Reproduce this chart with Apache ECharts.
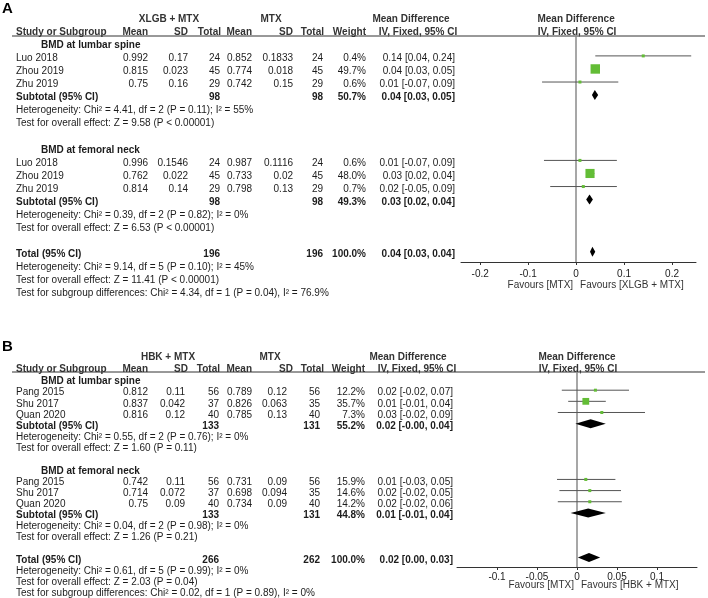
<!DOCTYPE html>
<html>
<head>
<meta charset="utf-8">
<script src="https://cdn.jsdelivr.net/npm/echarts@6/dist/echarts.min.js"></script>
<style>
html, body { margin: 0; padding: 0; background: #fff; }
#chart { width: 708px; height: 598px; }
</style>
</head>
<body>
<div id="chart"></div>
<script>
// ---------- Panel A: XLGB + MTX vs MTX ----------
var groupsA = ['BMD at lumbar spine', 'BMD at femoral neck'];
var studyA = ['Luo 2018', 'Zhou 2019', 'Zhu 2019', 'Luo 2018', 'Zhou 2019', 'Zhu 2019'];
var groupOfA = [0, 0, 0, 1, 1, 1];
var expMeanA = ['0.992', '0.815', '0.75', '0.996', '0.762', '0.814'];
var expSdA = ['0.17', '0.023', '0.16', '0.1546', '0.022', '0.14'];
var expNA = [24, 45, 29, 24, 45, 29];
var ctlMeanA = ['0.852', '0.774', '0.742', '0.987', '0.733', '0.798'];
var ctlSdA = ['0.1833', '0.018', '0.15', '0.1116', '0.02', '0.13'];
var ctlNA = [24, 45, 29, 24, 45, 29];
var weightA = [0.4, 49.7, 0.6, 0.6, 48.0, 0.7];
var mdTextA = ['0.14 [0.04, 0.24]', '0.04 [0.03, 0.05]', '0.01 [-0.07, 0.09]',
               '0.01 [-0.07, 0.09]', '0.03 [0.02, 0.04]', '0.02 [-0.05, 0.09]'];
var mdA = [0.14, 0.04, 0.008, 0.008, 0.029, 0.015];
var loA = [0.04, 0.031, -0.071, -0.067, 0.021, -0.054];
var hiA = [0.24, 0.049, 0.088, 0.085, 0.038, 0.085];
// subtotals per group
var subExpNA = [98, 98];
var subCtlNA = [98, 98];
var subWeightA = ['50.7%', '49.3%'];
var subMdTextA = ['0.04 [0.03, 0.05]', '0.03 [0.02, 0.04]'];
var subMdA = [0.039, 0.028];
var subLoA = [0.033, 0.021];
var subHiA = [0.046, 0.035];
var subHetA = ['Heterogeneity: Chi\u00b2 = 4.41, df = 2 (P = 0.11); I\u00b2 = 55%',
               'Heterogeneity: Chi\u00b2 = 0.39, df = 2 (P = 0.82); I\u00b2 = 0%'];
var subTestA = ['Test for overall effect: Z = 9.58 (P < 0.00001)',
                'Test for overall effect: Z = 6.53 (P < 0.00001)'];
// overall
var totalA = { expN: 196, ctlN: 196, weight: '100.0%', mdText: '0.04 [0.03, 0.04]', md: 0.034, lo: 0.029, hi: 0.04 };
var totalNotesA = ['Heterogeneity: Chi\u00b2 = 9.14, df = 5 (P = 0.10); I\u00b2 = 45%',
                   'Test for overall effect: Z = 11.41 (P < 0.00001)',
                   'Test for subgroup differences: Chi\u00b2 = 4.34, df = 1 (P = 0.04), I\u00b2 = 76.9%'];
var tickA = [-0.2, -0.1, 0, 0.1, 0.2];

// ---------- Panel B: HBK + MTX vs MTX ----------
var groupsB = ['BMD at lumbar spine', 'BMD at femoral neck'];
var studyB = ['Pang 2015', 'Shu 2017', 'Quan 2020', 'Pang 2015', 'Shu 2017', 'Quan 2020'];
var groupOfB = [0, 0, 0, 1, 1, 1];
var expMeanB = ['0.812', '0.837', '0.816', '0.742', '0.714', '0.75'];
var expSdB = ['0.11', '0.042', '0.12', '0.11', '0.072', '0.09'];
var expNB = [56, 37, 40, 56, 37, 40];
var ctlMeanB = ['0.789', '0.826', '0.785', '0.731', '0.698', '0.734'];
var ctlSdB = ['0.12', '0.063', '0.13', '0.09', '0.094', '0.09'];
var ctlNB = [56, 35, 40, 56, 35, 40];
var weightB = [12.2, 35.7, 7.3, 15.9, 14.6, 14.2];
var mdTextB = ['0.02 [-0.02, 0.07]', '0.01 [-0.01, 0.04]', '0.03 [-0.02, 0.09]',
               '0.01 [-0.03, 0.05]', '0.02 [-0.02, 0.05]', '0.02 [-0.02, 0.06]'];
var mdB = [0.023, 0.011, 0.031, 0.011, 0.016, 0.016];
var loB = [-0.019, -0.011, -0.024, -0.025, -0.022, -0.024];
var hiB = [0.065, 0.036, 0.085, 0.048, 0.055, 0.056];
var subExpNB = [133, 133];
var subCtlNB = [131, 131];
var subWeightB = ['55.2%', '44.8%'];
var subMdTextB = ['0.02 [-0.00, 0.04]', '0.01 [-0.01, 0.04]'];
var subMdB = [0.017, 0.014];
var subLoB = [-0.002, -0.008];
var subHiB = [0.036, 0.036];
var subHetB = ['Heterogeneity: Chi\u00b2 = 0.55, df = 2 (P = 0.76); I\u00b2 = 0%',
               'Heterogeneity: Chi\u00b2 = 0.04, df = 2 (P = 0.98); I\u00b2 = 0%'];
var subTestB = ['Test for overall effect: Z = 1.60 (P = 0.11)',
                'Test for overall effect: Z = 1.26 (P = 0.21)'];
var totalB = { expN: 266, ctlN: 262, weight: '100.0%', mdText: '0.02 [0.00, 0.03]', md: 0.015, lo: 0.001, hi: 0.029 };
var totalNotesB = ['Heterogeneity: Chi\u00b2 = 0.61, df = 5 (P = 0.99); I\u00b2 = 0%',
                   'Test for overall effect: Z = 2.03 (P = 0.04)',
                   'Test for subgroup differences: Chi\u00b2 = 0.02, df = 1 (P = 0.89), I\u00b2 = 0%'];
var tickB = [-0.1, -0.05, 0, 0.05, 0.1];

var FONT = '"Liberation Sans", Arial, Helvetica, sans-serif';
var GREEN = '#63bd36';
var TEXT_DY = 1.5;   // text sits a little lower than the markers
var MARK_DY = -1;

var panelA = {
  letter: 'A', letterY: 9, expName: 'XLGB + MTX', ctlName: 'MTX', favours: ['Favours [MTX]', 'Favours [XLGB + MTX]'],
  groups: groupsA, study: studyA, groupOf: groupOfA, expMean: expMeanA, expSd: expSdA, expN: expNA,
  ctlMean: ctlMeanA, ctlSd: ctlSdA, ctlN: ctlNA, weight: weightA, mdText: mdTextA, md: mdA, lo: loA, hi: hiA,
  subExpN: subExpNA, subCtlN: subCtlNA, subWeight: subWeightA, subMdText: subMdTextA,
  subMd: subMdA, subLo: subLoA, subHi: subHiA, subHet: subHetA, subTest: subTestA,
  total: totalA, totalNotes: totalNotesA, ticks: tickA,
  grid: { left: 461, top: 36, width: 235, height: 226 }, xMin: -0.24, xMax: 0.25, yMin: -0.6, yMax: 16.7,
  cols: { name: 16, group: 41, mean1: 148, sd1: 188, n1: 220, mean2: 252, sd2: 293, n2: 323, weight: 366, md: 455,
          hSd1: 188, hSd2: 293, hN2: 324, hExp: 169, hCtl: 271, hMd1: 411, hMd2: 418 },
  labelMargin: 7, favoursDy: 23, diamondH: 5, headerDy: 0
};
var panelB = {
  letter: 'B', letterY: 347, expName: 'HBK + MTX', ctlName: 'MTX', favours: ['Favours [MTX]', 'Favours [HBK + MTX]'],
  groups: groupsB, study: studyB, groupOf: groupOfB, expMean: expMeanB, expSd: expSdB, expN: expNB,
  ctlMean: ctlMeanB, ctlSd: ctlSdB, ctlN: ctlNB, weight: weightB, mdText: mdTextB, md: mdB, lo: loB, hi: hiB,
  subExpN: subExpNB, subCtlN: subCtlNB, subWeight: subWeightB, subMdText: subMdTextB,
  subMd: subMdB, subLo: subLoB, subHi: subHiB, subHet: subHetB, subTest: subTestB,
  total: totalB, totalNotes: totalNotesB, ticks: tickB,
  grid: { left: 457, top: 372, width: 240, height: 195 }, xMin: -0.15, xMax: 0.15, yMin: -0.72, yMax: 16.76,
  cols: { name: 16, group: 41, mean1: 148, sd1: 185, n1: 219, mean2: 252, sd2: 287, n2: 320, weight: 365, md: 453,
          hSd1: 188, hSd2: 293, hN2: 324, hExp: 168, hCtl: 270, hMd1: 408, hMd2: 417 },
  labelMargin: 5, favoursDy: 18, diamondH: 4.5, headerDy: -1.5
};

function txt(x, y, s, align, bold, color, size) {
  return {
    type: 'text', x: x, y: y, silent: true,
    style: {
      text: String(s), align: align || 'left', verticalAlign: 'middle',
      fontSize: size || 10, fontWeight: bold ? 'bold' : 'normal', fontFamily: FONT,
      fill: color || '#1c1c1c'
    }
  };
}

// build the table rows (row index -> cells) plus marker data
function buildRows(p) {
  var c = p.cols, rows = [], studies = [], diamonds = [];
  var plotMid = p.grid.left + p.grid.width * (0 - p.xMin) / (p.xMax - p.xMin);
  var H = '#333';
  rows.push({ i: -2, cells: [[c.hExp, p.expName, 'center', 1, H], [c.hCtl, p.ctlName, 'center', 1, H],
    [c.hMd1, 'Mean Difference', 'center', 1, H], [plotMid, 'Mean Difference', 'center', 1, H]] });
  rows.push({ i: -1, cells: [[c.name, 'Study or Subgroup', 'left', 1, H], [c.mean1, 'Mean', 'right', 1, H],
    [c.hSd1, 'SD', 'right', 1, H], [c.n1 + 1, 'Total', 'right', 1, H], [c.mean2, 'Mean', 'right', 1, H],
    [c.hSd2, 'SD', 'right', 1, H], [c.hN2, 'Total', 'right', 1, H], [c.weight, 'Weight', 'right', 1, H],
    [c.hMd2, 'IV, Fixed, 95% CI', 'center', 1, H], [plotMid + 1, 'IV, Fixed, 95% CI', 'center', 1, H]] });
  var i = 0;
  for (var g = 0; g < p.groups.length; g++) {
    rows.push({ i: i++, cells: [[c.group, p.groups[g], 'left', 1]] });
    for (var k = 0; k < p.study.length; k++) {
      if (p.groupOf[k] !== g) continue;
      rows.push({ i: i, cells: [[c.name, p.study[k], 'left'], [c.mean1, p.expMean[k], 'right'],
        [c.sd1, p.expSd[k], 'right'], [c.n1, p.expN[k], 'right'], [c.mean2, p.ctlMean[k], 'right'],
        [c.sd2, p.ctlSd[k], 'right'], [c.n2, p.ctlN[k], 'right'], [c.weight, p.weight[k].toFixed(1) + '%', 'right'],
        [c.md, p.mdText[k], 'right']] });
      studies.push([p.md[k], p.lo[k], p.hi[k], i, p.weight[k]]);
      i++;
    }
    rows.push({ i: i, cells: [[c.name, 'Subtotal (95% CI)', 'left', 1], [c.n1, p.subExpN[g], 'right', 1],
      [c.n2, p.subCtlN[g], 'right', 1], [c.weight, p.subWeight[g], 'right', 1], [c.md, p.subMdText[g], 'right', 1]] });
    diamonds.push([p.subMd[g], p.subLo[g], p.subHi[g], i]);
    i++;
    rows.push({ i: i++, cells: [[c.name, p.subHet[g], 'left']] });
    rows.push({ i: i++, cells: [[c.name, p.subTest[g], 'left']] });
    i++; // blank line
  }
  var t = p.total;
  rows.push({ i: i, cells: [[c.name, 'Total (95% CI)', 'left', 1], [c.n1, t.expN, 'right', 1],
    [c.n2, t.ctlN, 'right', 1], [c.weight, t.weight, 'right', 1], [c.md, t.mdText, 'right', 1]] });
  diamonds.push([t.md, t.lo, t.hi, i]);
  i++;
  p.totalNotes.forEach(function (n) { rows.push({ i: i++, cells: [[c.name, n, 'left']] }); });
  return { rows: rows, studies: studies, diamonds: diamonds };
}

var option = {
  animation: false,
  backgroundColor: '#fff',
  grid: [], xAxis: [], yAxis: [], series: [], graphic: []
};

[panelA, panelB].forEach(function (p, gi) {
  var built = buildRows(p);
  option.grid.push({
    left: p.grid.left, top: p.grid.top, width: p.grid.width, height: p.grid.height,
    containLabel: false, outerBoundsMode: 'none', show: false
  });
  option.xAxis.push({
    type: 'value', gridIndex: gi, min: p.xMin, max: p.xMax, position: 'bottom',
    axisLine: { show: true, onZero: false, lineStyle: { color: '#333', width: 1 } },
    axisTick: { show: true, length: 3, customValues: p.ticks, lineStyle: { color: '#333' } },
    axisLabel: {
      show: true, customValues: p.ticks, margin: p.labelMargin, color: '#1c1c1c',
      fontSize: 10, fontFamily: FONT, formatter: function (v) { return String(v); }
    },
    splitLine: { show: false }
  });
  option.yAxis.push({
    type: 'value', gridIndex: gi, inverse: true, min: p.yMin, max: p.yMax,
    axisLine: { show: true, onZero: true, lineStyle: { color: '#8a8a8a', width: 1.5 } },
    axisTick: { show: false }, axisLabel: { show: false }, splitLine: { show: false }
  });

  // table text, placed on the rows of the panel's y axis
  option.series.push({
    type: 'custom', name: 'table' + p.letter, xAxisIndex: gi, yAxisIndex: gi, clip: false, silent: true,
    data: built.rows.map(function (r) { return [0, r.i]; }),
    renderItem: function (params, api) {
      var r = built.rows[params.dataIndex];
      var y = api.coord([0, api.value(1)])[1] + TEXT_DY + (r.i < 0 ? p.headerDy : 0);
      return {
        type: 'group',
        children: r.cells.map(function (cl) { return txt(cl[0], y, cl[1], cl[2], cl[3], cl[4]); })
      };
    }
  });

  // study CIs and weight squares
  option.series.push({
    type: 'custom', name: 'studies' + p.letter, xAxisIndex: gi, yAxisIndex: gi, clip: false,
    encode: { x: [0, 1, 2], y: 3 },
    data: built.studies,
    renderItem: function (params, api) {
      var row = api.value(3);
      var lo = api.coord([api.value(1), row]);
      var hi = api.coord([api.value(2), row]);
      var c = api.coord([api.value(0), row]);
      var s = Math.max(3, api.value(4) * 0.19);
      var y = c[1] + MARK_DY;
      return {
        type: 'group',
        children: [
          { type: 'line', shape: { x1: lo[0], y1: y, x2: hi[0], y2: y }, style: { stroke: '#555', lineWidth: 1 } },
          { type: 'rect', shape: { x: c[0] - s / 2, y: y - s / 2, width: s, height: s }, style: { fill: GREEN } }
        ]
      };
    }
  });

  // pooled estimates as diamonds
  option.series.push({
    type: 'custom', name: 'pooled' + p.letter, xAxisIndex: gi, yAxisIndex: gi, clip: false,
    encode: { x: [0, 1, 2], y: 3 },
    data: built.diamonds,
    renderItem: function (params, api) {
      var row = api.value(3);
      var lo = api.coord([api.value(1), row]);
      var hi = api.coord([api.value(2), row]);
      var c = api.coord([api.value(0), row]);
      var y = c[1] + MARK_DY, h = p.diamondH;
      return {
        type: 'polygon',
        shape: { points: [[lo[0], y], [c[0], y - h], [hi[0], y], [c[0], y + h]] },
        style: { fill: '#000' }
      };
    }
  });

  // favours labels under the axis, split at zero
  option.series.push({
    type: 'custom', name: 'favours' + p.letter, xAxisIndex: gi, yAxisIndex: gi, clip: false, silent: true,
    data: [[0, p.yMax]],
    renderItem: function (params, api) {
      var pt = api.coord([api.value(0), api.value(1)]);
      var y = pt[1] + p.favoursDy;
      return {
        type: 'group',
        children: [txt(pt[0] - 3, y, p.favours[0], 'right', 0, '#333'), txt(pt[0] + 4, y, p.favours[1], 'left', 0, '#333')]
      };
    }
  });

  option.graphic.push({
    type: 'line', silent: true,
    shape: { x1: 12, y1: p.grid.top, x2: 705, y2: p.grid.top },
    style: { stroke: '#333', lineWidth: 1 }
  });
  option.graphic.push(txt(2, p.letterY, p.letter, 'left', 1, '#000', 15));
});

var chart = echarts.init(document.getElementById('chart'));
chart.setOption(option);
</script>
</body>
</html>
